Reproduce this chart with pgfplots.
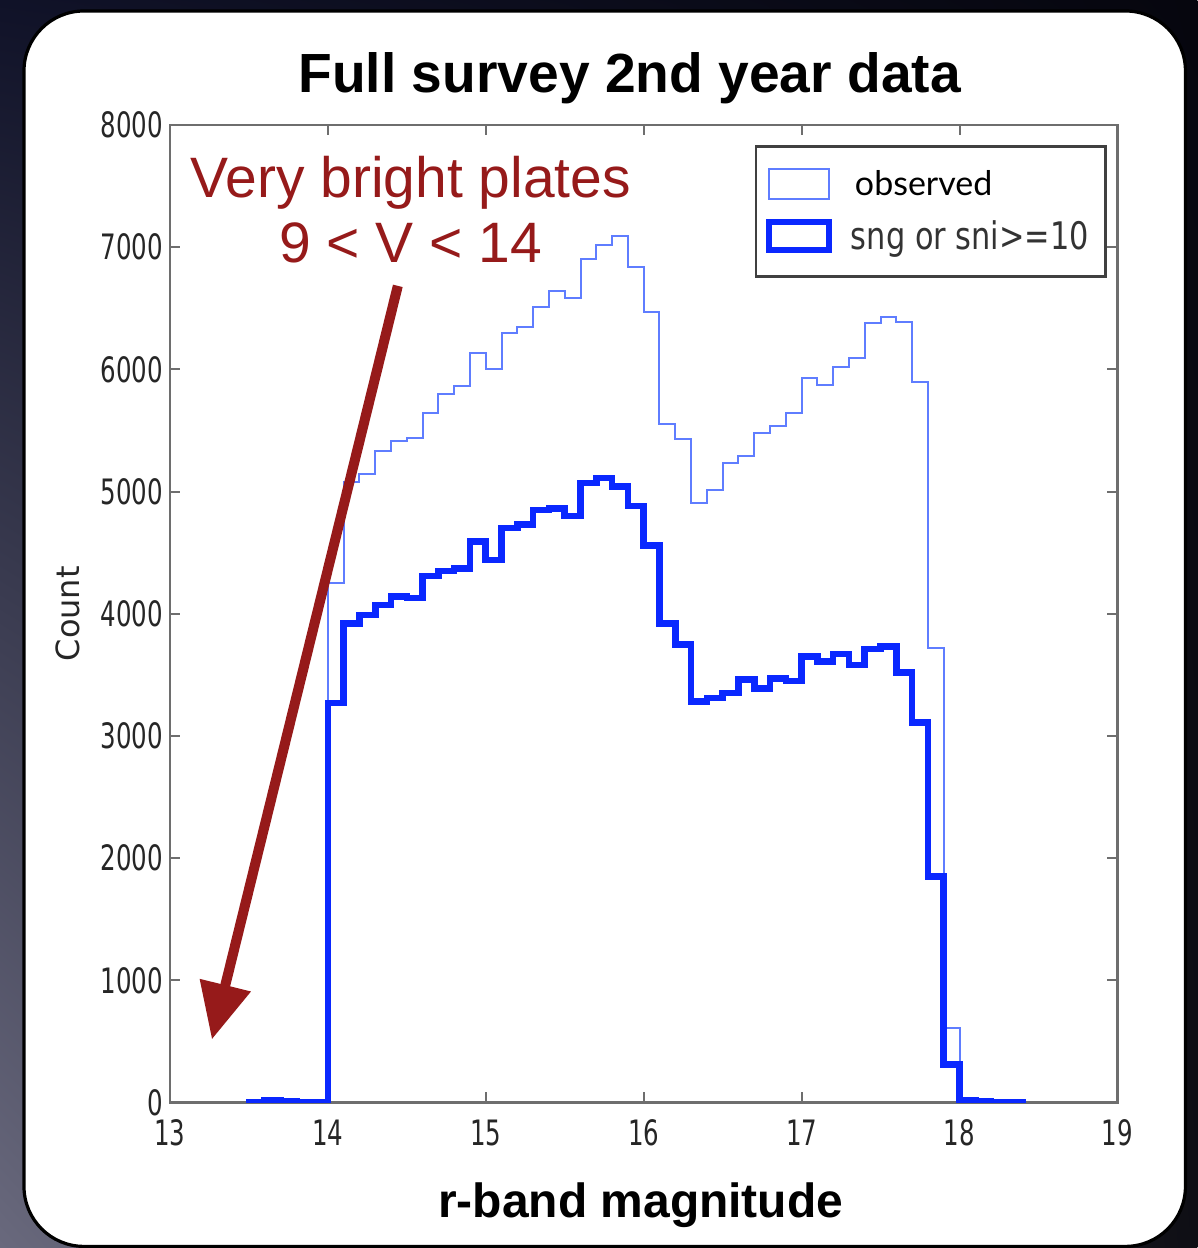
\documentclass[border=0pt]{standalone}
\usepackage{fontspec}
\usepackage{pgfplots}
\pgfplotsset{compat=1.18}
\usepackage{pgfplotstable}
\usetikzlibrary{arrows.meta,shadings}
\setmainfont{Liberation Sans}
\newfontfamily\tickfont[FakeStretch=0.7]{DejaVu Sans}
\newfontfamily\legfont[FakeStretch=0.8]{DejaVu Sans}
\newfontfamily\dejavu{DejaVu Sans}
\newfontfamily\gillfont{Lato}

\definecolor{obscol}{RGB}{95,125,255}
\definecolor{sngcol}{RGB}{10,40,255}
\definecolor{annored}{RGB}{150,26,26}
\definecolor{framegray}{RGB}{110,110,110}
\definecolor{bgul}{RGB}{16,18,40}
\definecolor{bgur}{RGB}{6,6,14}
\definecolor{bgll}{RGB}{105,105,125}
\definecolor{bglr}{RGB}{14,14,20}

% r-band histogram, bin width 0.1 mag: left edge, observed, sng or sni>=10
\pgfplotstableread{
x     obs   sng
13.5  0     0
13.5  10    5
13.6  20    15
13.7  15    10
13.8  10    5
13.9  10    5
14.0  4250  3270
14.1  5080  3920
14.2  5140  3990
14.3  5330  4070
14.4  5410  4140
14.5  5440  4130
14.6  5640  4310
14.7  5800  4350
14.8  5860  4370
14.9  6130  4590
15.0  6000  4440
15.1  6300  4700
15.2  6350  4730
15.3  6510  4850
15.4  6640  4860
15.5  6580  4800
15.6  6900  5070
15.7  7020  5110
15.8  7090  5040
15.9  6840  4880
16.0  6470  4560
16.1  5550  3920
16.2  5430  3750
16.3  4910  3280
16.4  5010  3310
16.5  5230  3350
16.6  5290  3460
16.7  5480  3390
16.8  5540  3470
16.9  5640  3450
17.0  5930  3650
17.1  5870  3610
17.2  6020  3670
17.3  6090  3580
17.4  6380  3710
17.5  6430  3730
17.6  6390  3520
17.7  5900  3110
17.8  3720  1850
17.9  610   310
18.0  30    20
18.1  15    10
18.2  10    5
18.3  10    5
18.4  10    5
18.4  0     0
}\histdata

\begin{document}
\begin{tikzpicture}
% slide background and card
\shade[upper left=bgul, upper right=bgur, lower left=bgll, lower right=bglr]
  (0pt,0pt) rectangle (599pt,624pt);
\draw[black, line width=1.6pt, fill=white, rounded corners=30pt] (12pt,0.5pt) rectangle (593pt,618.5pt);

\begin{axis}[
  at={(85pt,72.5pt)}, anchor=south west,
  scale only axis, width=474pt, height=489pt,
  xmin=13, xmax=19, ymin=0, ymax=8000,
  xtick={13,...,19}, ytick={0,1000,...,8000},
  scaled y ticks=false,
  /pgf/number format/assume math mode=true,
  /pgf/number format/set thousands separator={},
  ticklabel style={font=\tickfont\fontsize{17.5}{20}\selectfont, text=black!85},
  xticklabel style={yshift=-5pt},
  axis line style={draw=framegray, line width=1.3pt},
  tick style={draw=framegray, line width=1pt},
  major tick length=5pt, tick align=inside,
  xtick pos=both, ytick pos=both,
  legend style={at={(0.6171,0.9796)}, anchor=north west,
    draw=black!75, line width=1.4pt, fill=white,
    inner xsep=5pt, inner ysep=10pt, row sep=7pt,
    cells={anchor=west}},
  legend cell align=left,
]
\addplot[const plot, obscol, line width=1pt,
  legend image code/.code={\draw[obscol, line width=1pt] (0pt,-7.5pt) rectangle (30pt,7.5pt);}]
  table[x=x, y=obs] {\histdata};
\addlegendentry{\makebox[128pt][l]{\hspace{9.5pt}\gillfont\fontsize{17}{20}\selectfont observed}}
\addplot[const plot, sngcol, line width=3.3pt,
  legend image code/.code={\draw[sngcol, line width=3pt] (0pt,-7pt) rectangle (30pt,7pt);}]
  table[x=x, y=sng] {\histdata};
\addlegendentry{\makebox[128pt][l]{\hspace{7.5pt}\legfont\fontsize{19}{20}\selectfont\color{black!80}sng or sni>=10}}
\end{axis}

% titles and axis labels
\node[anchor=base, font=\bfseries\fontsize{27.6}{30}\selectfont] at (315pt,577.5pt) {Full survey 2nd year data};
\node[anchor=base, font=\bfseries\fontsize{24}{28}\selectfont] at (320.5pt,15pt) {r-band magnitude};
\node[rotate=90, font=\dejavu\fontsize{16}{18}\selectfont, text=black!85] at (34pt,317pt) {Count};

% annotation
\node[anchor=base, text=annored, font=\fontsize{28.5}{32}\selectfont] at (205.5pt,525pt) {Very bright plates};
\node[anchor=base, text=annored, font=\fontsize{28.5}{32}\selectfont] at (205.5pt,492.5pt) {9 < V < 14};
\draw[annored, line width=5pt, -{Triangle[length=28pt,width=25pt]}] (199pt,481pt) -- (106pt,104pt);
\end{tikzpicture}
\end{document}
